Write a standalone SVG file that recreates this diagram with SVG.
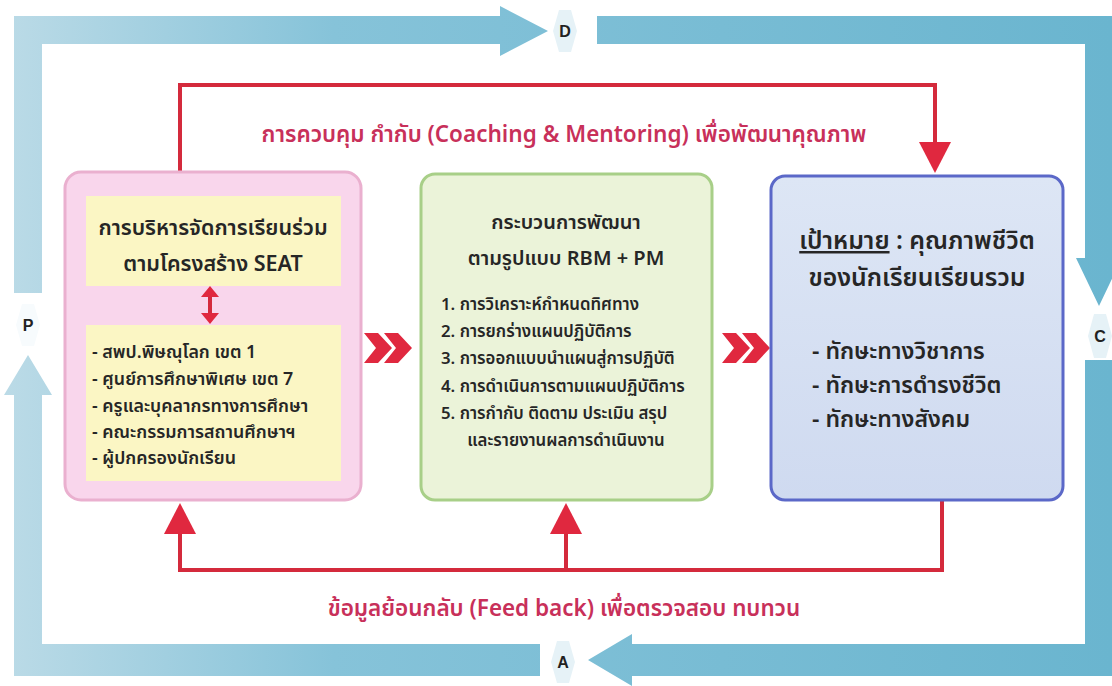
<svg xmlns="http://www.w3.org/2000/svg" width="1112" height="686" viewBox="0 0 1112 686">
  <defs>
    <linearGradient id="bandG" x1="0" y1="0" x2="1112" y2="0" gradientUnits="userSpaceOnUse">
      <stop offset="0" stop-color="#bcdbe7"/>
      <stop offset="0.3" stop-color="#86c3d9"/>
      <stop offset="1" stop-color="#6ab5cf"/>
    </linearGradient>
    <linearGradient id="blueBox" x1="0" y1="0" x2="0" y2="1">
      <stop offset="0" stop-color="#dde6f5"/>
      <stop offset="1" stop-color="#cfdaf0"/>
    </linearGradient>
    <style>
      .th { font-family: "Noto Sans Thai", "Noto Sans", "DejaVu Sans", sans-serif; font-weight: 600; }
      .lbl { font-size: 22.5px; fill: #c8305a; text-anchor: middle; }
      .dark { fill: #262626; }
      .hex { fill: #e6f2f7; }
      .letter { font-family: "Liberation Sans", Arial, sans-serif; font-size: 16px; font-weight: bold; fill: #222; text-anchor: middle; }
      .red { fill: none; stroke: #d42a3c; stroke-width: 4; }
      .redfill { fill: #e0283f; }
    </style>
  </defs>

  <rect width="1112" height="686" fill="#ffffff"/>

  <!-- PDCA blue frame -->
  <g id="cycle">
    <polygon fill="url(#bandG)" points="14,293 14,16 500,16 500,6 548,31 500,56 500,44 42,44 42,293"/>
    <polygon fill="url(#bandG)" points="597,16 1112,16 1112,258 1122,258 1099,306 1076,258 1085,258 1085,44 597,44"/>
    <polygon fill="url(#bandG)" points="1085,360 1112,360 1112,676 632,676 632,686 588,660 632,634 632,644 1085,644"/>
    <polygon fill="url(#bandG)" points="540,644 540,676 14,676 14,395 4,395 28,355 52,395 42,395 42,644"/>
  </g>

  <g id="node-D">
    <polygon class="hex" points="553,31 559,10 571,10 577,31 571,52 559,52"/>
    <text class="letter" x="565" y="37">D</text>
  </g>
  <g id="node-C">
    <polygon class="hex" points="1088,336 1094,314 1106,314 1112,336 1106,358 1094,358"/>
    <text class="letter" x="1100" y="342">C</text>
  </g>
  <g id="node-A">
    <polygon class="hex" points="551,662 557,641 569,641 575,662 569,683 557,683"/>
    <text class="letter" x="563" y="668">A</text>
  </g>
  <g id="node-P">
    <polygon fill="#f7fbfd" points="16,325 22,304 34,304 40,325 34,346 22,346"/>
    <text class="letter" x="28" y="331">P</text>
  </g>

  <!-- red connectors -->
  <g id="connectors">
    <polyline class="red" points="180,172 180,85 935,85 935,148"/>
    <polygon class="redfill" points="919,142 951,142 935,173"/>
    <polyline class="red" points="942,500 942,570 180,570 180,532"/>
    <polygon class="redfill" points="164,534 196,534 180,503"/>
    <line class="red" x1="566" y1="570" x2="566" y2="532"/>
    <polygon class="redfill" points="550,534 582,534 566,503"/>
    <!-- double chevrons -->
    <polygon class="redfill" points="364,333 378,333 392,348 378,363 364,363 376,348"/>
    <polygon class="redfill" points="384,333 398,333 412,348 398,363 384,363 396,348"/>
    <polygon class="redfill" points="722,333 736,333 750,348 736,363 722,363 734,348"/>
    <polygon class="redfill" points="742,333 756,333 770,348 756,363 742,363 754,348"/>
    <text class="th lbl" x="564" y="142">การควบคุม กำกับ (Coaching &amp; Mentoring) เพื่อพัฒนาคุณภาพ</text>
    <text class="th lbl" x="564" y="616">ข้อมูลย้อนกลับ (Feed back) เพื่อตรวจสอบ ทบทวน</text>
  </g>

  <!-- Pink box -->
  <g id="node-seat">
    <rect x="65" y="172" width="296" height="328" rx="16" fill="#f9d6ec" stroke="#eab0cf" stroke-width="3"/>
    <rect x="86" y="196" width="255" height="90" fill="#fbf6c4"/>
    <rect x="86" y="325" width="255" height="156" fill="#fbf6c4"/>
    <line x1="210" y1="293" x2="210" y2="317" stroke="#d42a3c" stroke-width="4"/>
    <polygon class="redfill" points="201,297 219,297 210,286"/>
    <polygon class="redfill" points="201,313 219,313 210,324"/>
    <g class="th dark" font-size="21.5" text-anchor="middle">
      <text x="213" y="235">การบริหารจัดการเรียนร่วม</text>
      <text x="213" y="271">ตามโครงสร้าง SEAT</text>
    </g>
    <g class="th dark" font-size="17.8">
      <text x="92" y="358">- สพป.พิษณุโลก เขต 1</text>
      <text x="92" y="385">- ศูนย์การศึกษาพิเศษ เขต 7</text>
      <text x="92" y="412">- ครูและบุคลากรทางการศึกษา</text>
      <text x="92" y="438">- คณะกรรมการสถานศึกษาฯ</text>
      <text x="92" y="464">- ผู้ปกครองนักเรียน</text>
    </g>
  </g>

  <!-- Green box -->
  <g id="node-process">
    <rect x="421" y="174" width="291" height="326" rx="14" fill="#ebf3d9" stroke="#a8cf88" stroke-width="3"/>
    <g class="th dark" font-size="20" text-anchor="middle">
      <text x="566" y="229">กระบวนการพัฒนา</text>
      <text x="566" y="265">ตามรูปแบบ RBM + PM</text>
    </g>
    <g class="th dark" font-size="16.8">
      <text x="441" y="310">1. การวิเคราะห์กำหนดทิศทาง</text>
      <text x="441" y="337">2. การยกร่างแผนปฏิบัติการ</text>
      <text x="441" y="364">3. การออกแบบนำแผนสู่การปฏิบัติ</text>
      <text x="441" y="392">4. การดำเนินการตามแผนปฏิบัติการ</text>
      <text x="441" y="419">5. การกำกับ ติดตาม ประเมิน สรุป</text>
      <text x="566" y="446" text-anchor="middle">และรายงานผลการดำเนินงาน</text>
    </g>
  </g>

  <!-- Blue box -->
  <g id="node-goal">
    <rect x="771" y="176" width="292" height="324" rx="14" fill="url(#blueBox)" stroke="#5b68c8" stroke-width="3"/>
    <g class="th dark" font-size="24.8" text-anchor="middle">
      <text x="917" y="249"><tspan text-decoration="underline">เป้าหมาย</tspan> : คุณภาพชีวิต</text>
      <text x="917" y="286">ของนักเรียนเรียนรวม</text>
    </g>
    <g class="th dark" font-size="23">
      <text x="812" y="359">- ทักษะทางวิชาการ</text>
      <text x="812" y="393">- ทักษะการดำรงชีวิต</text>
      <text x="812" y="427">- ทักษะทางสังคม</text>
    </g>
  </g>
</svg>
